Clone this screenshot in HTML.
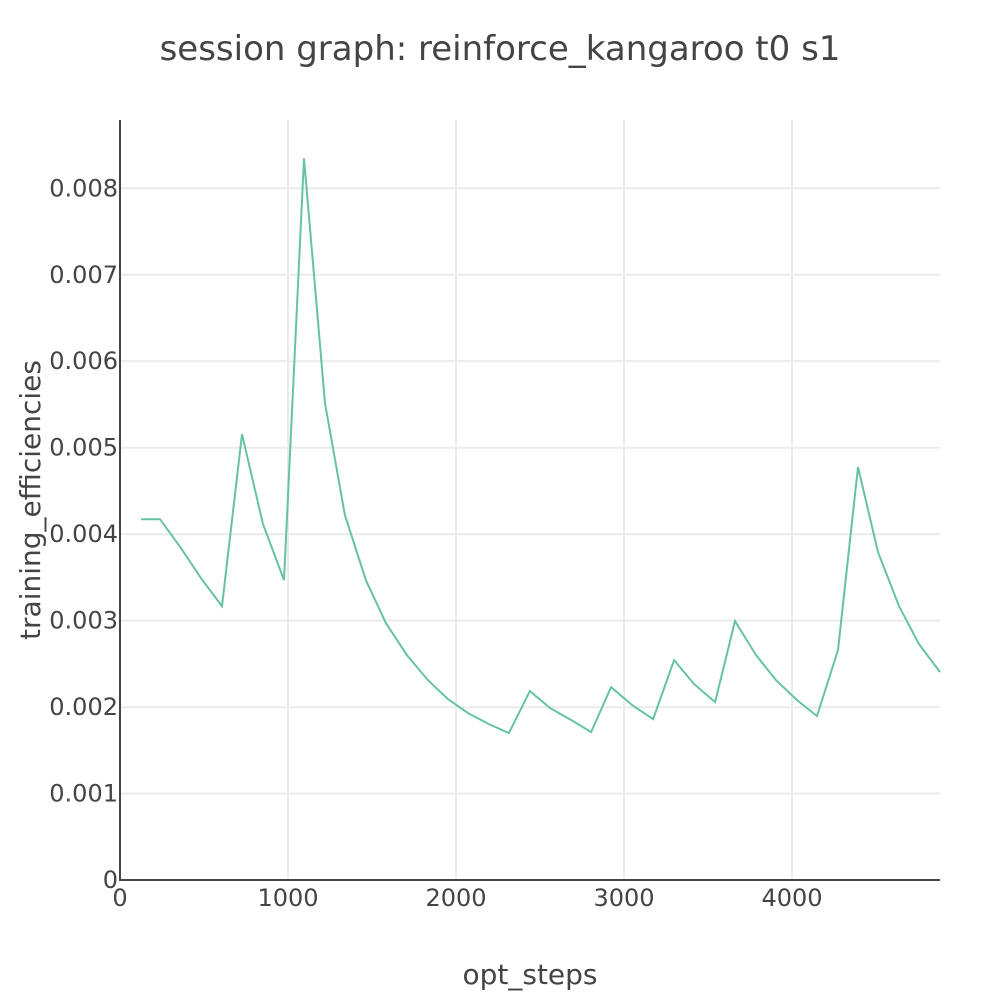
<!DOCTYPE html>
<html><head><meta charset="utf-8"><style>
html,body{margin:0;padding:0;background:#fff;}
svg text{font-family:"DejaVu Sans","Liberation Sans",sans-serif;fill:#444;}
</style></head><body>
<svg id="chart" width="1000" height="1000" viewBox="0 0 1000 1000">
<text x="500" y="60" text-anchor="middle" font-size="34">session graph: reinforce_kangaroo t0 s1</text>
<g id="grid"></g>
<g id="axes"></g>
<path id="series" fill="none" stroke="#66c2a5" stroke-width="2"></path>
<text x="530" y="984" text-anchor="middle" font-size="28">opt_steps</text>
<text transform="translate(40,500) rotate(-90)" text-anchor="middle" font-size="28">training_efficiencies</text>
</svg>
<script>
const xs = [125,238,363,482,607,726,851,976,1095,1220,1339,1464,1583,1708,1833,1952,2071,2196,2315,2440,2560,2685,2804,2923,3048,3173,3298,3417,3542,3661,3786,3905,4030,4149,4274,4393,4512,4637,4756,4881];
const ys = [0.004173,0.004173,0.003838,0.003491,0.003168,0.005156,0.004116,0.003468,0.008347,0.005514,0.00422,0.003468,0.002971,0.002601,0.002312,0.002092,0.001931,0.001803,0.001699,0.002185,0.001988,0.00185,0.001711,0.002231,0.002023,0.001861,0.002543,0.002266,0.002058,0.002994,0.002601,0.002312,0.002081,0.001896,0.002659,0.004775,0.003792,0.003168,0.002728,0.002405];
const xTicks = [0,1000,2000,3000,4000];
const yTicks = [0,0.001,0.002,0.003,0.004,0.005,0.006,0.007,0.008];
const yTickLabels = ["0","0.001","0.002","0.003","0.004","0.005","0.006","0.007","0.008"];

const L=120,R=940,T=120,B=880;
const xMax=4881, yMax=0.00879;
const sx=v=>L+v/xMax*(R-L);
const sy=v=>B-v/yMax*(B-T);
const NS="http://www.w3.org/2000/svg";
const grid=document.getElementById('grid'), axes=document.getElementById('axes');
function mk(tag,attrs,parent){const e=document.createElementNS(NS,tag);for(const k in attrs)e.setAttribute(k,attrs[k]);parent.appendChild(e);return e;}
xTicks.forEach(v=>{
  if(v>0){const g=mk('line',{x1:sx(v),x2:sx(v),y1:T,y2:B,stroke:'#ebebeb','stroke-width':2},grid);
  
  }
  const t=mk('text',{x:sx(v),y:906,'text-anchor':'middle','font-size':24},axes);
  t.textContent=String(v);
  
  
});
yTicks.forEach((v,i)=>{
  if(v>0){const g=mk('line',{x1:L,x2:R,y1:sy(v),y2:sy(v),stroke:'#ebebeb','stroke-width':2},grid);
  
  }
  const t=mk('text',{x:118,y:sy(v)+8,'text-anchor':'end','font-size':24},axes);
  t.textContent=yTickLabels[i];
  
  
});
const ax=mk('line',{x1:L,x2:L,y1:T,y2:B+1,stroke:'#444','stroke-width':2},axes);


const bx=mk('line',{x1:L-1,x2:R,y1:B,y2:B,stroke:'#444','stroke-width':2},axes);


document.getElementById('series').setAttribute('d',xs.map((x,i)=>(i?'L':'M')+sx(x).toFixed(1)+','+sy(ys[i]).toFixed(1)).join(''));
</script>
</body></html>
